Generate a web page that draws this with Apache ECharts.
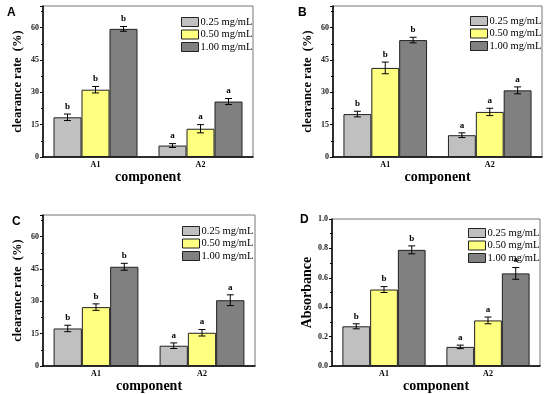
<!DOCTYPE html>
<html><head><meta charset="utf-8">
<script src="https://cdn.jsdelivr.net/npm/echarts@6/dist/echarts.min.js"></script>
<style>html,body{margin:0;padding:0;background:#fff}#c{width:550px;height:394px}</style>
</head><body><div id="c"></div>
<script>
var categories = ['A1', 'A2'];
var seriesNames = ['0.25 mg/mL', '0.50 mg/mL', '1.00 mg/mL'];
var letters = ['b', 'a'];
var panelLabels = ['A', 'B', 'C', 'D'];
var yNames = ['clearance rate  (%)', 'clearance rate  (%)', 'clearance rate  (%)', 'Absorbance'];
// values per concentration: [A1, A2]
var A_low = [18.4, 5.3], A_mid = [31.2, 13.1], A_high = [59.4, 25.7];
var A_lowErr = [1.5, 0.9], A_midErr = [1.5, 1.9], A_highErr = [1.1, 1.4];
var B_low = [19.9, 10.1], B_mid = [41.3, 20.9], B_high = [54.2, 30.9];
var B_lowErr = [1.3, 1.1], B_midErr = [2.7, 1.7], B_highErr = [1.3, 1.6];
var C_low = [17.4, 9.4], C_mid = [27.3, 15.4], C_high = [46.0, 30.5];
var C_lowErr = [1.5, 1.3], C_midErr = [1.5, 1.5], C_highErr = [1.6, 2.5];
var D_low = [0.27, 0.13], D_mid = [0.52, 0.31], D_high = [0.79, 0.63];
var D_lowErr = [0.017, 0.012], D_midErr = [0.02, 0.023], D_highErr = [0.027, 0.04];
var yTicksClear = [0, 15, 30, 45, 60];
var yTicksAbs = [0.0, 0.2, 0.4, 0.6, 0.8, 1.0];

var panels = [
  {vals: [A_low, A_mid, A_high], errs: [A_lowErr, A_midErr, A_highErr]},
  {vals: [B_low, B_mid, B_high], errs: [B_lowErr, B_midErr, B_highErr]},
  {vals: [C_low, C_mid, C_high], errs: [C_lowErr, C_midErr, C_highErr]},
  {vals: [D_low, D_mid, D_high], errs: [D_lowErr, D_midErr, D_highErr]}
];
var grids = [
  {left: 43, top: 6, width: 210, height: 151},
  {left: 333, top: 6, width: 209, height: 151},
  {left: 43, top: 215, width: 212, height: 151},
  {left: 332, top: 219, width: 208, height: 147}
];
var legendPos = [
  {left: 176, top: 11}, {left: 465, top: 10}, {left: 177, top: 220}, {left: 463, top: 222}
];
var letterPos = [[11, 14], [302, 14], [16, 223], [304, 221]];
var colors = ['#c0c0c0', '#ffff80', '#808080'];
var serif = '"Liberation Serif", "Times New Roman", serif';

function errRender(params, api) {
  var cat = api.value(0), val = api.value(1), err = api.value(2), g = api.value(3);
  var band = api.size([1, 0])[0];
  var bw = band * 0.8 / 3;
  var c = api.coord([cat, val]);
  var x = c[0] + (g - 1) * bw;
  var top = api.coord([cat, val + err])[1];
  var bot = api.coord([cat, val - err])[1];
  var cap = 3.5;
  var ls = {stroke: '#000', lineWidth: 1};
  return {type: 'group', children: [
    {type: 'line', shape: {x1: x, y1: top, x2: x, y2: bot}, style: ls},
    {type: 'line', shape: {x1: x - cap, y1: top, x2: x + cap, y2: top}, style: ls},
    {type: 'line', shape: {x1: x - cap, y1: bot, x2: x + cap, y2: bot}, style: ls},
    {type: 'text', style: {text: letters[cat], x: x, y: top - 3, textAlign: 'center', textVerticalAlign: 'bottom',
      font: 'bold 9px ' + serif, fill: '#000'}}
  ]};
}

var option = {animation: false, grid: [], xAxis: [], yAxis: [], series: [], legend: [], graphic: []};
panels.forEach(function (p, i) {
  var isAbs = i === 3;
  option.grid.push(Object.assign({show: true, borderColor: '#777', borderWidth: 1, backgroundColor: 'transparent'}, grids[i]));
  option.xAxis.push({
    type: 'category', gridIndex: i, data: categories,
    axisLine: {lineStyle: {color: '#000', width: 1.5}},
    axisTick: {alignWithLabel: true, length: 3, lineStyle: {color: '#000'}},
    axisLabel: {fontFamily: serif, fontWeight: 'bold', fontSize: 8, color: '#000', margin: 4},
    name: 'component', nameLocation: 'middle', nameGap: 5,
    nameTextStyle: {fontFamily: serif, fontWeight: 'bold', fontSize: 14, color: '#000', verticalAlign: 'top'}
  });
  var ticks = isAbs ? yTicksAbs : yTicksClear;
  option.yAxis.push({
    type: 'value', gridIndex: i, min: ticks[0],
    max: isAbs ? 1.0 : 70,
    interval: ticks[1] - ticks[0],
    splitLine: {show: false},
    axisLine: {show: true, lineStyle: {color: '#000', width: 1.5}},
    axisTick: {show: true, length: 3, lineStyle: {color: '#000'}},
    minorTick: {show: true, splitNumber: 2, length: 2, lineStyle: {color: '#000'}},
    axisLabel: {fontFamily: serif, fontWeight: 'bold', fontSize: 8, color: '#222', margin: 4,
      showMaxLabel: isAbs,
      formatter: function (v) { return isAbs ? v.toFixed(1) : String(v); }},
    name: yNames[i], nameLocation: 'middle', nameGap: isAbs ? 17 : 19, nameRotate: 90,
    nameTextStyle: {fontFamily: serif, fontWeight: 'bold', fontSize: isAbs ? 14 : 12.5, color: '#000'}
  });
  var errData = [];
  seriesNames.forEach(function (name, g) {
    option.series.push({
      type: 'bar', name: name, xAxisIndex: i, yAxisIndex: i, data: p.vals[g],
      barGap: '0%', barCategoryGap: '20%',
      itemStyle: {color: colors[g], borderColor: '#222', borderWidth: 1}
    });
    p.vals[g].forEach(function (v, k) { errData.push([k, v, p.errs[g][k], g]); });
  });
  option.series.push({type: 'custom', xAxisIndex: i, yAxisIndex: i, renderItem: errRender, data: errData, z: 5});
  option.legend.push({
    orient: 'vertical', left: legendPos[i].left, top: legendPos[i].top, data: seriesNames,
    itemWidth: 17, itemHeight: 9, itemGap: 0.5, icon: 'rect',
    itemStyle: {borderColor: '#222', borderWidth: 1},
    textStyle: {fontFamily: serif, fontSize: 10.5, color: '#000', lineHeight: 12, padding: [0, 0, 0, -3]}
  });
  option.graphic.push({type: 'text', left: letterPos[i][0] - 4, top: letterPos[i][1] - 7,
    style: {text: panelLabels[i], font: 'bold 12px "Liberation Sans", Arial, sans-serif', fill: '#000'}});
});
var chart = echarts.init(document.getElementById('c'), null, {renderer: 'canvas'});
chart.setOption(option);
</script></body></html>
